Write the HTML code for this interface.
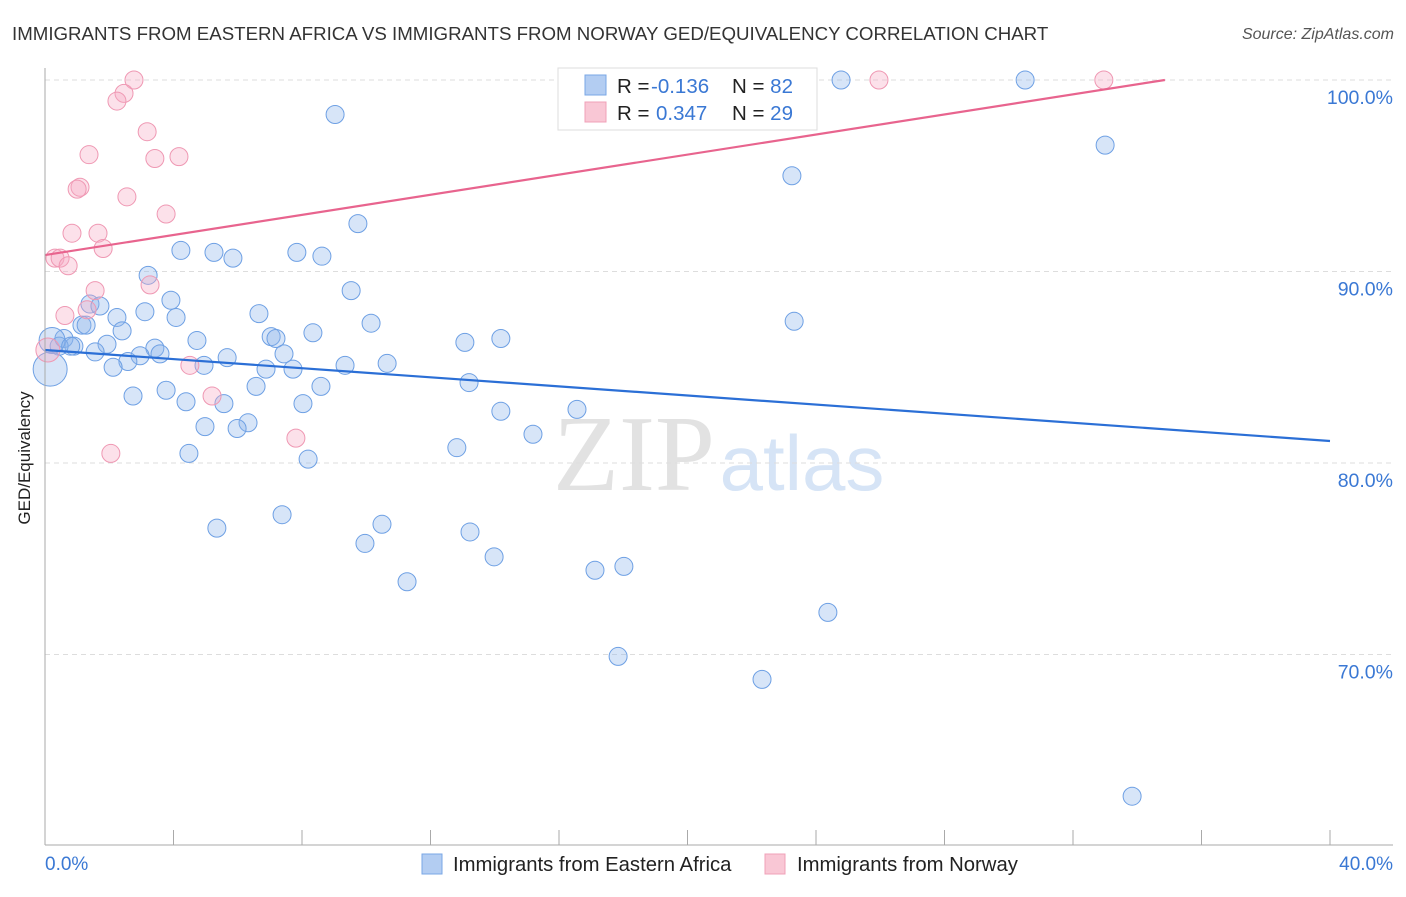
<!DOCTYPE html>
<html><head><meta charset="utf-8"><style>
body{margin:0;background:#fff;font-family:"Liberation Sans",sans-serif}
</style></head><body>
<svg id="c" width="1406" height="892" xmlns="http://www.w3.org/2000/svg">
<text x="12" y="40" font-size="18.7" fill="#333">IMMIGRANTS FROM EASTERN AFRICA VS IMMIGRANTS FROM NORWAY GED/EQUIVALENCY CORRELATION CHART</text>
<text x="1394" y="39" font-size="16" fill="#555" font-style="italic" text-anchor="end">Source: ZipAtlas.com</text>
<g><text x="634" y="490" font-size="108" fill="#e2e2e2" font-family="Liberation Serif,serif" text-anchor="middle">ZIP</text><text x="802" y="490" font-size="78" fill="#d6e4f6" text-anchor="middle">atlas</text></g>
<g id="grid"></g><g id="pts"></g><g id="lines"></g>
<line x1="45" y1="68" x2="45" y2="845" stroke="#aaa"/>
<line x1="45" y1="845" x2="1393" y2="845" stroke="#aaa"/>
<text x="30" y="458" font-size="17" fill="#222" transform="rotate(-90 30 458)" text-anchor="middle">GED/Equivalency</text>
<text x="45" y="870" font-size="19" fill="#3a78d4">0.0%</text>
<text x="1393" y="870" font-size="19" fill="#3a78d4" text-anchor="end">40.0%</text>
<g>
<rect x="558" y="68" width="259" height="62" fill="#fff" stroke="#ddd"/>
<rect x="585" y="75" width="21" height="20" fill="#b3cdf2" stroke="#7aa7e6"/>
<rect x="585" y="102" width="21" height="20" fill="#f9c7d5" stroke="#f0a0b8"/>
<text x="617" y="93" font-size="20.5" fill="#222">R = <tspan fill="#3a78d4" x="651">-0.136</tspan><tspan x="732">N = </tspan><tspan fill="#3a78d4">82</tspan></text>
<text x="617" y="120" font-size="20.5" fill="#222">R = <tspan fill="#3a78d4" x="656">0.347</tspan><tspan x="732">N = </tspan><tspan fill="#3a78d4">29</tspan></text>
</g>
<g><rect x="422" y="854" width="20" height="20" fill="#b3cdf2" stroke="#7aa7e6"/><text x="453" y="871" font-size="20.3" fill="#222">Immigrants from Eastern Africa</text></g>
<g><rect x="765" y="854" width="20" height="20" fill="#f9c7d5" stroke="#f0a0b8"/><text x="797" y="871" font-size="20.3" fill="#222">Immigrants from Norway</text></g>
</svg>
<script>
const yTicks=[100,90,80,70];
const yTickLabels=["100.0%","90.0%","80.0%","70.0%"];
const blueX=[17.31,24.78,30.51,9.03,33.0,23.25,9.74,4.23,5.26,7.84,8.62,5.85,3.21,9.53,1.40,1.71,3.92,3.11,6.66,2.24,4.08,23.32,10.15,1.15,1.28,2.40,8.34,7.04,7.19,4.73,0.59,14.19,13.07,1.93,0.90,0.44,3.42,1.56,3.58,2.96,7.44,2.58,5.67,4.95,9.34,10.65,2.12,6.88,7.72,13.20,6.57,8.59,3.77,2.74,4.39,5.57,8.03,14.19,16.56,6.32,4.98,5.98,15.19,12.82,4.48,8.19,5.35,10.49,13.23,7.38,9.96,13.98,11.27,17.12,18.02,24.37,17.84,22.32,33.84,0.16,0.22,0.8];
const blueY=[100,100,100,98.2,96.6,95.0,92.5,91.1,91.0,91.0,90.8,90.7,89.8,89.0,88.3,88.2,88.5,87.9,87.8,87.6,87.6,87.4,87.3,87.2,87.2,86.9,86.8,86.6,86.5,86.4,86.5,86.5,86.3,86.2,86.1,86.1,86.0,85.8,85.7,85.6,85.7,85.3,85.5,85.1,85.1,85.2,85.0,84.9,84.9,84.2,84.0,84.0,83.8,83.5,83.2,83.1,83.1,82.7,82.8,82.1,81.9,81.8,81.5,80.8,80.5,80.2,76.6,76.8,76.4,77.3,75.8,75.1,73.8,74.4,74.6,72.2,69.9,68.7,62.6,84.9,86.4,86.1];
const blueR=[9,9,9,9,9,9,9,9,9,9,9,9,9,9,9,9,9,9,9,9,9,9,9,9,9,9,9,9,9,9,9,9,9,9,9,9,9,9,9,9,9,9,9,9,9,9,9,9,9,9,9,9,9,9,9,9,9,9,9,9,9,9,9,9,9,9,9,9,9,9,9,9,9,9,9,9,9,9,9,17,13,9];
const pinkX=[2.77,25.96,32.96,2.46,2.24,3.18,1.37,3.42,4.17,1.09,1.00,2.55,3.77,0.84,1.65,1.81,0.31,0.47,0.72,3.27,1.56,1.31,0.62,4.51,5.20,7.81,2.05,0.09];
const pinkY=[100,100,100,99.3,98.9,97.3,96.1,95.9,96.0,94.4,94.3,93.9,93.0,92.0,92.0,91.2,90.7,90.7,90.3,89.3,89.0,88.0,87.7,85.1,83.5,81.3,80.5,85.9];
const pinkR=[9,9,9,9,9,9,9,9,9,9,9,9,9,9,9,9,9,9,9,9,9,9,9,9,9,9,9,12];
const blueTrend=[0,85.9,40,81.15];
const pinkTrend=[0,90.86,34.86,100];
const NS="http://www.w3.org/2000/svg";
const sx=v=>45+v*1285/40, sy=v=>80+(100-v)*19.15;
function mk(t,a,p){const e=document.createElementNS(NS,t);for(const k in a)e.setAttribute(k,a[k]);document.getElementById(p).appendChild(e);return e;}
yTicks.forEach((t,i)=>{
 const l=mk('line',{x1:45,x2:1393,y1:sy(t),y2:sy(t),stroke:'#ddd','stroke-dasharray':'5,4'},'grid');
 
 
 const tx=mk('text',{x:1393,y:sy(t)+24,'font-size':19.5,fill:'#3a78d4','text-anchor':'end'},'grid');
 tx.textContent=yTickLabels[i];
 
 
});
for(let i=0;i<=10;i++){
 const tk=mk('line',{x1:sx(i*4),x2:sx(i*4),y1:830,y2:845,stroke:'#aaa'},'grid');
 
 
}
blueX.forEach((x,i)=>{
 const c=mk('circle',{cx:sx(x),cy:sy(blueY[i]),r:blueR[i],fill:'rgba(140,180,235,0.35)',stroke:'#6ea0e4','stroke-width':1},'pts');
 
 
});
pinkX.forEach((x,i)=>{
 const c=mk('circle',{cx:sx(x),cy:sy(pinkY[i]),r:pinkR[i],fill:'rgba(245,170,195,0.35)',stroke:'#ef98b3','stroke-width':1},'pts');
 
 
});
const bl=mk('line',{x1:sx(blueTrend[0]),y1:sy(blueTrend[1]),x2:sx(blueTrend[2]),y2:sy(blueTrend[3]),stroke:'#2b6fd6','stroke-width':2.2},'lines');


const pl=mk('line',{x1:sx(pinkTrend[0]),y1:sy(pinkTrend[1]),x2:sx(pinkTrend[2]),y2:sy(pinkTrend[3]),stroke:'#e8648e','stroke-width':2.2},'lines');


</script>
</body></html>
